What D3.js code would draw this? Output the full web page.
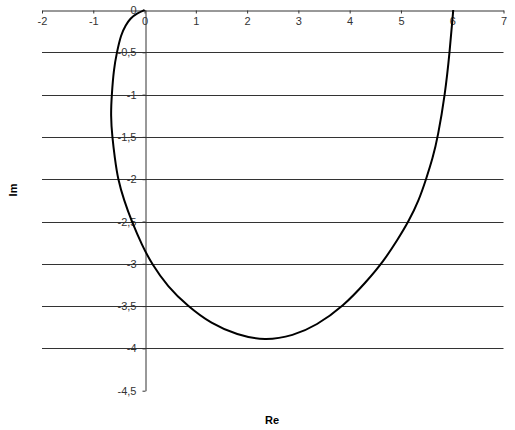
<!DOCTYPE html>
<html>
<head>
<meta charset="utf-8">
<script src="https://cdn.jsdelivr.net/npm/d3@7"></script>
<style>
body{margin:0;background:#fff;}
svg{display:block;font-family:"Liberation Sans",Arial,sans-serif;}
</style>
</head>
<body>
<svg id="chart" width="515" height="430"></svg>
<script>
const reValues = [0,-0.15,-0.28,-0.37,-0.46,-0.54,-0.60,-0.64,-0.66,-0.63,-0.58,-0.52,-0.40,-0.25,-0.05,0.14,0.45,0.84,1.30,1.80,2.35,2.90,3.35,3.88,4.33,4.66,4.93,5.15,5.35,5.49,5.62,5.72,5.86,5.95,6.02];
const imValues = [0,-0.04,-0.10,-0.18,-0.29,-0.50,-0.70,-1.00,-1.25,-1.50,-1.75,-2.00,-2.25,-2.50,-2.78,-3.00,-3.27,-3.50,-3.71,-3.84,-3.91,-3.85,-3.73,-3.50,-3.21,-2.97,-2.72,-2.50,-2.25,-2.00,-1.75,-1.50,-1.00,-0.50,0];
const xTicks = [-2,-1,0,1,2,3,4,5,6,7];
const yTicks = [0,-0.5,-1,-1.5,-2,-2.5,-3,-3.5,-4,-4.5];
const gridValues = [-0.5,-1,-1.5,-2,-2.5,-3,-3.5,-4];
const xTitle = "Re", yTitle = "Im";

const svg = d3.select("#chart");
const x = d3.scaleLinear().domain([-2,7]).range([42,503.5]);
const y = d3.scaleLinear().domain([0,-4.5]).range([10,390.7]);
const fmt = v => String(v).replace(".", ",");

// gridlines
svg.append("g").selectAll("line").data(gridValues).join("line")
  .attr("x1", x(-2)).attr("x2", x(7))
  .attr("y1", d=>Math.round(y(d))+0.5).attr("y2", d=>Math.round(y(d))+0.5)
  .attr("stroke","#333").attr("stroke-width",1);

// x axis (top, at y=0)
const xa = svg.append("g").attr("transform",`translate(0,${Math.round(y(0))+0.5})`)
  .call(d3.axisBottom(x).tickValues(xTicks).tickSize(3).tickSizeOuter(0).tickPadding(4).tickFormat(fmt));
xa.select(".domain").attr("stroke","#333");
xa.selectAll(".tick line").attr("stroke","#333");
xa.selectAll("text").attr("fill","#333").style("font-size","11px").style("font-family","'Liberation Sans',Arial,sans-serif");

// y axis at x=0
const ya = svg.append("g").attr("transform",`translate(${Math.round(x(0))+0.5},0)`)
  .call(d3.axisLeft(y).tickValues(yTicks).tickSize(3).tickSizeOuter(0).tickPadding(6).tickFormat(fmt));
ya.select(".domain").attr("stroke","#333");
ya.selectAll(".tick line").attr("stroke","#333");
ya.selectAll("text").attr("fill","#333").style("font-size","11px").style("font-family","'Liberation Sans',Arial,sans-serif");

// curve
const pts = reValues.map((r,i)=>[r, imValues[i]]);
svg.append("path").datum(pts)
  .attr("d", d3.line().x(d=>x(d[0])).y(d=>y(d[1])).curve(d3.curveBasis))
  .attr("fill","none").attr("stroke","#000").attr("stroke-width",2);

// titles
svg.append("text").attr("x",272).attr("y",424).attr("text-anchor","middle")
  .style("font-size","11px").style("font-weight","bold").text(xTitle);
svg.append("text").attr("transform","translate(17,190) rotate(-90)").attr("text-anchor","middle")
  .style("font-size","11px").style("font-weight","bold").text(yTitle);
</script>
</body>
</html>
